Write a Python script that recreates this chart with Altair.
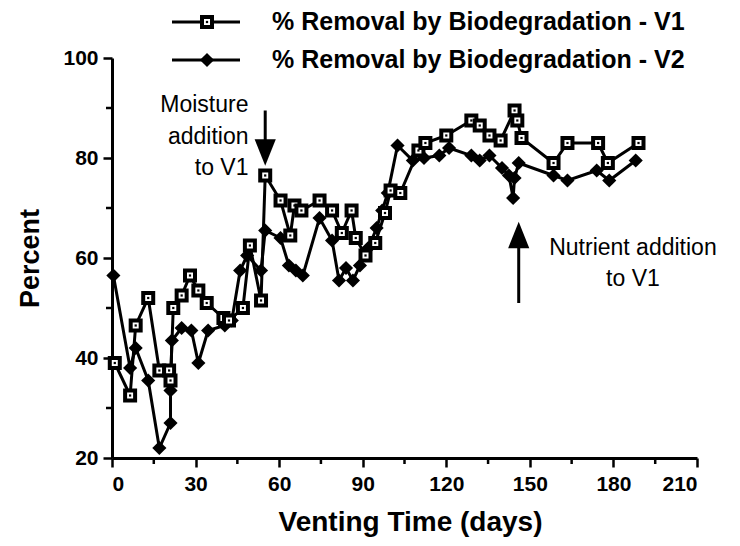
import altair as alt
import pandas as pd

# ---- data ----
v1_day = [1, 6.5, 8.5, 13, 17, 20.5, 21, 22, 25, 28, 31, 34, 40, 42, 47, 49.5, 53.5, 55,
          60.5, 64, 65.5, 68, 74.5, 79, 82.5, 86, 87.5, 91, 94.5, 98, 100, 103.5, 110, 112.5,
          120, 129, 132, 135.5, 139.5, 144.5, 145.5, 147, 158.5, 163.5, 174.5, 178, 189]
v1_pct = [39, 32.5, 46.5, 52, 37.5, 37.5, 35.5, 50, 52.5, 56.5, 53.5, 51, 48, 47.5, 50, 62.5, 51.5, 76.5,
          71.5, 64.5, 70.5, 69.5, 71.5, 69.5, 65, 69.5, 64, 60.5, 63, 69, 73.5, 73, 81.5, 83,
          84.5, 87.5, 86.5, 84.5, 83.5, 89.5, 87.5, 84, 79, 83, 83, 79, 83]

v2_day = [0.5, 6.5, 8.5, 13, 17, 21, 21, 21.5, 25, 28.5, 31, 34.5, 40.5, 43, 46, 48.5, 53.5, 55,
          60.5, 63.5, 66, 68.5, 74.5, 79, 81.5, 84, 86.5, 89, 92, 95, 97, 99, 102.5, 108, 112,
          117.5, 121, 129, 132, 135.5, 140, 142.5, 144, 144.5, 146, 158.5, 163.5, 174, 178.5, 188]
v2_pct = [56.5, 38, 42, 35.5, 22, 27, 33.5, 43.5, 46, 45.5, 39, 45.5, 46.5, 47.5, 57.5, 60.5, 57.5, 65.5,
          64, 58.5, 57.5, 56.5, 68, 63.5, 55.5, 58, 55.5, 58.5, 62, 66, 69.5, 73, 82.5, 79.5, 80,
          80.5, 82, 80.5, 79.5, 80.5, 78, 76.5, 72, 76, 79, 76.5, 75.5, 77.5, 75.5, 79.5]

x_major = [0, 30, 60, 90, 120, 150, 180, 210]
x_minor = [15, 45, 75, 105, 135, 165, 195]
y_major = [20, 40, 60, 80, 100]
y_minor = [30, 50, 70, 90]

legend_labels = ["% Removal by Biodegradation - V1", "% Removal by Biodegradation - V2"]

ann_moist_lines = ["Moisture", "addition", "to V1"]
ann_moist_day = 49
ann_moist_pct = [90.6, 84.2, 78.0]
ann_nutr_lines = ["Nutrient addition", "to V1"]
ann_nutr_day = 187
ann_nutr_pct = [62.0, 55.8]

arrow_moist = {"day": 55, "from": 89.5, "to": 82, "head": 81.1}
arrow_nutr = {"day": 146, "from": 51, "to": 64, "head": 64.6}

FONT = "Liberation Sans"

v1 = pd.DataFrame({"day": v1_day, "pct": v1_pct, "i": range(len(v1_day))})
v2 = pd.DataFrame({"day": v2_day, "pct": v2_pct, "i": range(len(v2_day))})

xs = alt.Scale(domain=[0, 210], nice=False, zero=False)
ys = alt.Scale(domain=[20, 100], nice=False, zero=False)

X = alt.X("day:Q", scale=xs, axis=alt.Axis(
    values=x_major, tickSize=9, tickWidth=2.5, domainWidth=3, domainColor="black",
    tickColor="black", labelFontSize=21, labelFont=FONT, labelFontWeight="bold",
    labelColor="black", labelPadding=6, grid=False,
    title="Venting  Time  (days)", titleFont=FONT, titleFontSize=28, titleFontWeight="bold",
    titleColor="black", titleX=298, titleY=64, titleBaseline="middle", titleAlign="center"))
Y = alt.Y("pct:Q", scale=ys, axis=alt.Axis(
    values=y_major, tickSize=9, tickWidth=2.5, domainWidth=3, domainColor="black",
    tickColor="black", labelFontSize=21, labelFont=FONT, labelFontWeight="bold",
    labelColor="black", labelPadding=5, grid=False,
    title="Percent", titleFont=FONT, titleFontSize=27, titleFontWeight="bold",
    titleColor="black", titleX=-82, titleY=200, titleAngle=-90,
    titleBaseline="middle", titleAlign="center"))

base2 = alt.Chart(v2)
base1 = alt.Chart(v1)

line2 = base2.mark_line(color="black", strokeWidth=3).encode(x=X, y=Y, order="i:Q")
line1 = base1.mark_line(color="black", strokeWidth=3).encode(x="day:Q", y="pct:Q", order="i:Q")
pts2 = base2.mark_point(shape="diamond", filled=True, color="black", size=200, opacity=1).encode(x="day:Q", y="pct:Q")
pts1 = base1.mark_point(shape="square", filled=True, fill="white", stroke="black", strokeWidth=4,
                        size=100, opacity=1).encode(x="day:Q", y="pct:Q")
dots1 = base1.mark_point(shape="square", filled=True, color="black", size=5, opacity=1).encode(x="day:Q", y="pct:Q")

# minor ticks
xm = alt.Chart(pd.DataFrame({"day": x_minor})).mark_rule(color="black", strokeWidth=2.5).encode(
    x="day:Q", y=alt.value(400), y2=alt.value(406))
ym = alt.Chart(pd.DataFrame({"pct": y_minor})).mark_rule(color="black", strokeWidth=2.5).encode(
    y="pct:Q", x=alt.value(-6), x2=alt.value(0))

# annotations
am = alt.Chart(pd.DataFrame({"day": [ann_moist_day] * 3, "pct": ann_moist_pct, "t": ann_moist_lines})).mark_text(
    font=FONT, fontSize=23, align="right", baseline="middle", color="black").encode(x="day:Q", y="pct:Q", text="t:N")
an = alt.Chart(pd.DataFrame({"day": [ann_nutr_day] * 2, "pct": ann_nutr_pct, "t": ann_nutr_lines})).mark_text(
    font=FONT, fontSize=23, align="center", baseline="middle", color="black").encode(x="day:Q", y="pct:Q", text="t:N")

arr = pd.DataFrame({"day": [arrow_moist["day"], arrow_nutr["day"]],
                    "y1": [arrow_moist["from"], arrow_nutr["from"]],
                    "y2": [arrow_moist["to"], arrow_nutr["to"]]})
shafts = alt.Chart(arr).mark_rule(color="black", strokeWidth=3).encode(x="day:Q", y="y1:Q", y2="y2:Q")
head_d = alt.Chart(pd.DataFrame({"day": [arrow_moist["day"]], "pct": [arrow_moist["head"]]})).mark_point(
    shape="M-0.8,-1L0.8,-1L0,1Z", filled=True, color="black", size=700, opacity=1).encode(x="day:Q", y="pct:Q")
head_u = alt.Chart(pd.DataFrame({"day": [arrow_nutr["day"]], "pct": [arrow_nutr["head"]]})).mark_point(
    shape="M-0.8,1L0.8,1L0,-1Z", filled=True, color="black", size=700, opacity=1).encode(x="day:Q", y="pct:Q")

# legend (outside the plot area)
one = pd.DataFrame({"a": [0]})
leg_y = [-36, 2]
leg = []
for k, yy in enumerate(leg_y):
    leg.append(alt.Chart(one).mark_rule(color="black", strokeWidth=3).encode(
        x=alt.value(60), x2=alt.value(128), y=alt.value(yy)))
    leg.append(alt.Chart(pd.DataFrame({"t": [legend_labels[k]]})).mark_text(
        font=FONT, fontSize=25, fontWeight="bold", align="left", baseline="middle", color="black").encode(
        x=alt.value(160), y=alt.value(yy), text="t:N"))
leg.append(alt.Chart(one).mark_point(shape="square", filled=True, fill="white", stroke="black",
                                     strokeWidth=4, size=100, opacity=1).encode(x=alt.value(95), y=alt.value(leg_y[0])))
leg.append(alt.Chart(one).mark_point(shape="square", filled=True, color="black", size=5, opacity=1).encode(
    x=alt.value(95), y=alt.value(leg_y[0])))
leg.append(alt.Chart(one).mark_point(shape="diamond", filled=True, color="black", size=200, opacity=1).encode(
    x=alt.value(95), y=alt.value(leg_y[1])))

chart = alt.layer(line2, line1, pts2, pts1, dots1, xm, ym, am, an, shafts, head_d, head_u, *leg).properties(
    width=585, height=400,
    autosize=alt.AutoSizeParams(type="none"),
    padding={"left": 104, "top": 50, "right": 34, "bottom": 80},
    background="white",
).configure_view(stroke=None)

chart.save("out.html", embed_options={"renderer": "svg", "actions": False})
